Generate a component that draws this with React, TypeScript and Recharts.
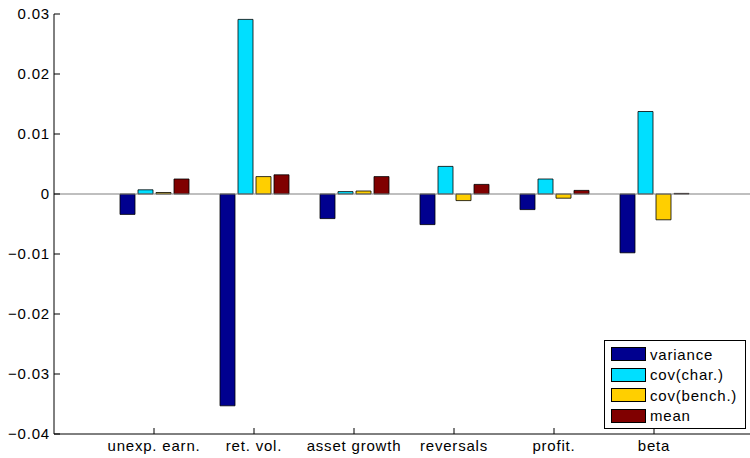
import React from "react";
import { BarChart, Bar, XAxis, YAxis, ReferenceLine } from "recharts";

const categories = ["unexp. earn.", "ret. vol.", "asset growth", "reversals", "profit.", "beta"];
const variance = [-0.0034, -0.0353, -0.0041, -0.0051, -0.0026, -0.0098];
const covChar = [0.0007, 0.0291, 0.0004, 0.0046, 0.0025, 0.01375];
const covBench = [0.00025, 0.0029, 0.0005, -0.0011, -0.0007, -0.0043];
const mean = [0.0025, 0.0032, 0.0029, 0.0016, 0.0006, 0.0001];
const yTicks = [-0.04, -0.03, -0.02, -0.01, 0, 0.01, 0.02, 0.03];

const seriesNames = ["variance", "cov(char.)", "cov(bench.)", "mean"];
const seriesKeys = ["variance", "covChar", "covBench", "mean"];
const colors = ["#00008F", "#00DFFF", "#FFCF00", "#800000"];

const data = categories.map((name, i) => ({
  name,
  variance: variance[i],
  covChar: covChar[i],
  covBench: covBench[i],
  mean: mean[i],
}));

const FONT = "'Liberation Sans', Arial, Helvetica, sans-serif";

const fmt = (v: number) => {
  if (Math.abs(v) < 1e-9) return "0";
  const s = Math.abs(v).toFixed(2);
  return v < 0 ? "\u2212" + s : s;
};

const LegendBox = () => (
  <div
    style={{
      position: "absolute",
      left: 604,
      top: 340,
      border: "1px solid #000",
      background: "#fff",
      width: 142,
      height: 89,
      boxSizing: "border-box",
      padding: "3px 0 0 6px",
      fontFamily: FONT,
      fontSize: 15,
      letterSpacing: 0.8,
      color: "#000",
    }}
  >
    {seriesNames.map((n, i) => (
      <div key={n} style={{ display: "flex", alignItems: "center", height: 20.5 }}>
        <div
          style={{
            width: 35,
            height: 14,
            background: colors[i],
            border: "1px solid #000",
            boxSizing: "border-box",
            marginRight: 4,
          }}
        />
        <span style={{ lineHeight: "15px" }}>{n}</span>
      </div>
    ))}
  </div>
);

export default function App() {
  const tickStyle = { fontFamily: FONT, fontSize: 15, fill: "#000", letterSpacing: 0.8 };
  return (
    <div
      style={{
        position: "absolute",
        left: 0,
        top: 0,
        width: 750,
        height: 458,
        overflow: "hidden",
        background: "#fff",
      }}
    >
      <BarChart
        width={760}
        height={458}
        data={data}
        margin={{ top: 14, right: 6, bottom: 0, left: 0 }}
        barSize={15}
        barGap={3}
      >
        <XAxis
          xAxisId="bottom"
          dataKey="name"
          orientation="bottom"
          height={24}
          padding={{ left: 50, right: 50 }}
          tick={tickStyle}
          tickSize={-6}
          tickMargin={12}
          axisLine={{ stroke: "#000", strokeWidth: 1 }}
          tickLine={{ stroke: "#000", strokeWidth: 1 }}
          interval={0}
        />
        <XAxis
          xAxisId="top"
          dataKey="name"
          orientation="top"
          height={0}
          padding={{ left: 50, right: 50 }}
          tickFormatter={() => ""}
          tickSize={-6}
          axisLine={{ stroke: "#000", strokeWidth: 1 }}
          tickLine={{ stroke: "#000", strokeWidth: 1 }}
          interval={0}
        />
        <YAxis
          yAxisId="left"
          width={54}
          domain={[-0.04, 0.03]}
          ticks={yTicks}
          type="number"
          allowDataOverflow
          tickFormatter={fmt}
          tick={tickStyle}
          tickSize={-6}
          tickMargin={10}
          axisLine={{ stroke: "#000", strokeWidth: 1 }}
          tickLine={{ stroke: "#000", strokeWidth: 1 }}
          interval={0}
        />
        <YAxis
          yAxisId="right"
          orientation="right"
          width={0}
          domain={[-0.04, 0.03]}
          ticks={yTicks}
          type="number"
          allowDataOverflow
          tickFormatter={() => ""}
          tickSize={-6}
          axisLine={false}
          tickLine={{ stroke: "#000", strokeWidth: 1 }}
          interval={0}
        />
        <ReferenceLine
          y={0}
          xAxisId="bottom"
          yAxisId="left"
          stroke="#808080"
          strokeWidth={1.2}
        />
        {seriesKeys.map((k, i) => (
          <Bar
            key={k}
            dataKey={k}
            name={seriesNames[i]}
            xAxisId="bottom"
            yAxisId="left"
            fill={colors[i]}
            stroke="#000"
            strokeWidth={0.8}
            isAnimationActive={false}
          />
        ))}
      </BarChart>
      <LegendBox />
    </div>
  );
}
